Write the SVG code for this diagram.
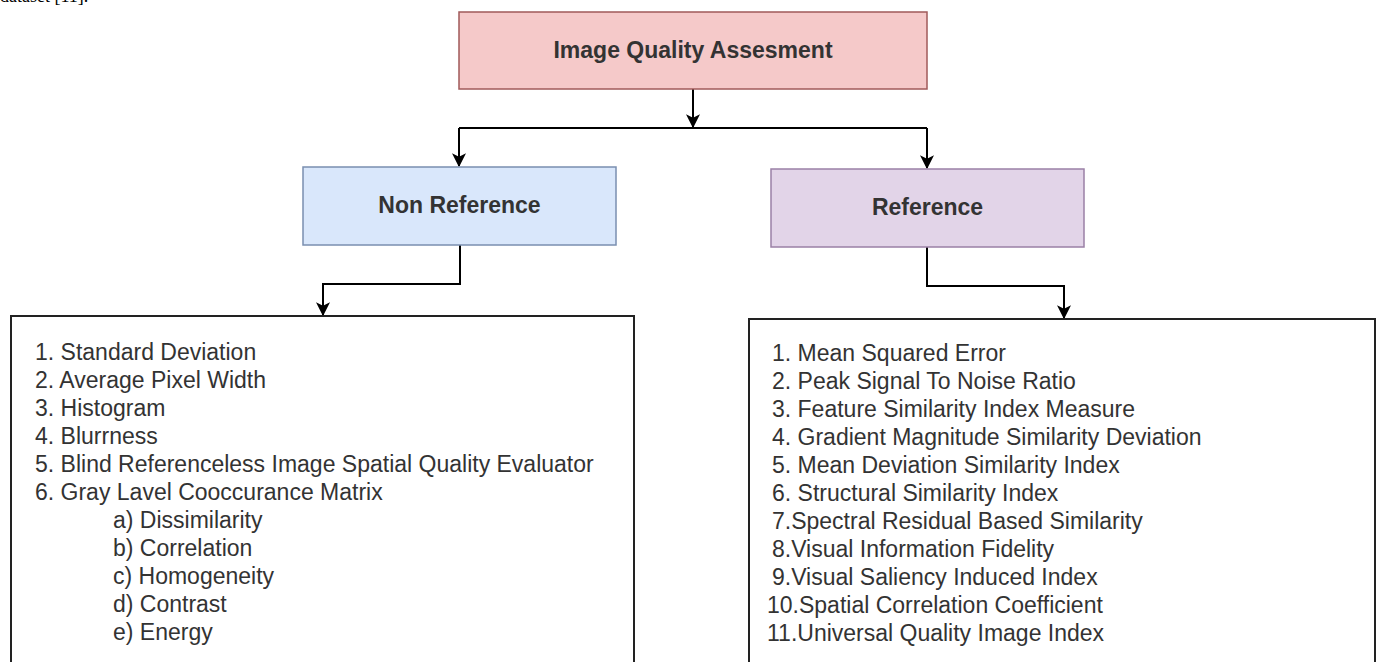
<svg xmlns="http://www.w3.org/2000/svg" width="1376" height="662" viewBox="0 0 1376 662">
<style>
.t{font-family:"Liberation Sans",Arial,sans-serif;font-size:23px;fill:#333}
.b{font-weight:bold;text-anchor:middle}
.c{fill:none;stroke:#000;stroke-width:2}
.box{fill:#fff;stroke:#222;stroke-width:2}
</style>
<defs>
<marker id="ah" viewBox="0 0 10 10" refX="9" refY="5" markerWidth="7" markerHeight="7" markerUnits="userSpaceOnUse" orient="auto">
<path d="M0,0 L10,5 L0,10 L3,5 z" fill="#000"/>
</marker>
<marker id="a" viewBox="0 0 12 12" refX="11" refY="6" markerWidth="14" markerHeight="14" markerUnits="userSpaceOnUse" orient="auto">
<path d="M0,0 L12,6 L0,12 L3,6 z" fill="#000"/>
</marker>
</defs>
<text x="0" y="2" style="font-family:'Liberation Serif',serif;font-size:18px;fill:#000">dataset [11].</text>
<g id="connectors">
<path class="c" d="M693,89 V127" marker-end="url(#a)"/>
<path class="c" d="M459,128 H927"/>
<path class="c" d="M459,128 V166" marker-end="url(#a)"/>
<path class="c" d="M927,128 V168" marker-end="url(#a)"/>
<path class="c" d="M460,245 V284 H323 V315" marker-end="url(#a)"/>
<path class="c" d="M927,247 V286 H1064 V318" marker-end="url(#a)"/>
</g>
<g id="iqa">
<rect x="459" y="12" width="468" height="77" fill="#f5c9c9" stroke="#a05a5a" stroke-width="1.5"/>
<text class="t b" x="693" y="58">Image Quality Assesment</text>
</g>
<g id="nonref">
<rect x="303" y="167" width="313" height="78" fill="#d9e7fb" stroke="#7a8fb0" stroke-width="1.5"/>
<text class="t b" x="459.5" y="213">Non Reference</text>
</g>
<g id="ref">
<rect x="771" y="169" width="313" height="78" fill="#e2d4e8" stroke="#9a80a6" stroke-width="1.5"/>
<text class="t b" x="927.5" y="215">Reference</text>
</g>
<g id="nrlist">
<rect class="box" x="11" y="316" width="623" height="360"/>
<text class="t" x="35" y="360">1. Standard Deviation</text>
<text class="t" x="35" y="388">2. Average Pixel Width</text>
<text class="t" x="35" y="416">3. Histogram</text>
<text class="t" x="35" y="444">4. Blurrness</text>
<text class="t" x="35" y="472">5. Blind Referenceless Image Spatial Quality Evaluator</text>
<text class="t" x="35" y="500">6. Gray Lavel Cooccurance Matrix</text>
<text class="t" x="113" y="528">a) Dissimilarity</text>
<text class="t" x="113" y="556">b) Correlation</text>
<text class="t" x="113" y="584">c) Homogeneity</text>
<text class="t" x="113" y="612">d) Contrast</text>
<text class="t" x="113" y="640">e) Energy</text>
</g>
<g id="rlist">
<rect class="box" x="749" y="319" width="626" height="360"/>
<text class="t" x="772" y="361">1. Mean Squared Error</text>
<text class="t" x="772" y="389">2. Peak Signal To Noise Ratio</text>
<text class="t" x="772" y="417">3. Feature Similarity Index Measure</text>
<text class="t" x="772" y="445">4. Gradient Magnitude Similarity Deviation</text>
<text class="t" x="772" y="473">5. Mean Deviation Similarity Index</text>
<text class="t" x="772" y="501">6. Structural Similarity Index</text>
<text class="t" x="772" y="529">7.Spectral Residual Based Similarity</text>
<text class="t" x="772" y="557">8.Visual Information Fidelity</text>
<text class="t" x="772" y="585">9.Visual Saliency Induced Index</text>
<text class="t" x="767" y="613">10.Spatial Correlation Coefficient</text>
<text class="t" x="767" y="641">11.Universal Quality Image Index</text>
</g>
</svg>
